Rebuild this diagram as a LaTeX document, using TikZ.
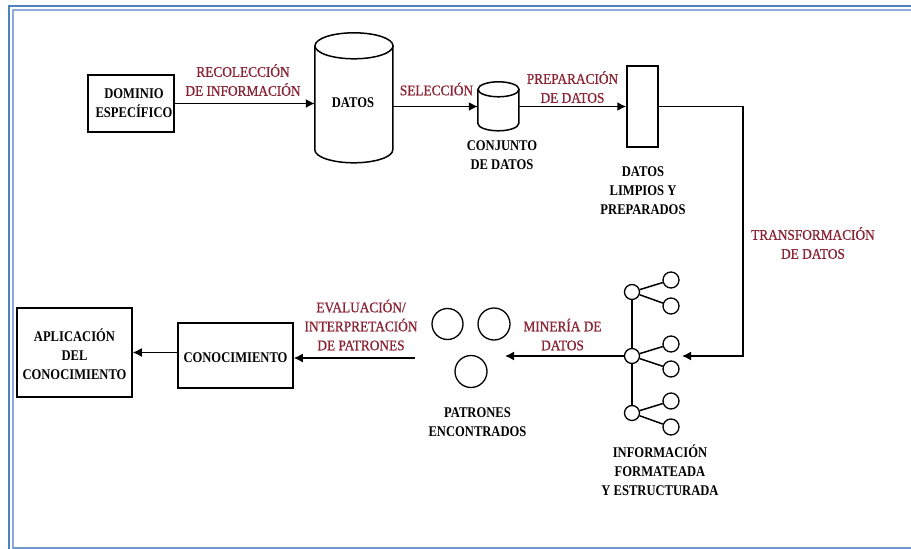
\documentclass[tikz,border=0pt]{standalone}
\usepackage{fontspec}
\setmainfont{Liberation Serif}[FakeStretch=0.85]
\newfontfamily\labelfont{Liberation Serif}[FakeStretch=0.9, FakeBold=0.8]
\usetikzlibrary{arrows.meta}
\definecolor{framebl}{HTML}{4F81BD}
\definecolor{framelt}{HTML}{8EAADB}
\definecolor{lblred}{HTML}{8B2434}
\tikzset{
  txt/.style={font=\fontsize{14.8}{19}\selectfont\bfseries, align=center, inner sep=0pt},
  lbl/.style={font=\labelfont\fontsize{14.8}{19}\selectfont, text=lblred, align=center, inner sep=0pt},
  box/.style={draw, line width=1.5pt, inner sep=0pt},
  conn/.style={line width=1.5pt},
  arr/.style={conn, -{Latex[length=9pt,width=9pt]}},
  tnode/.style={circle, draw, line width=1.3pt, minimum size=16pt, inner sep=0pt},
  pat/.style={circle, draw, line width=1.3pt, minimum size=32pt, inner sep=0pt},
}
\begin{document}
\begin{tikzpicture}[x=1pt,y=-1pt]
\useasboundingbox (0,0) rectangle (911,549);

% page frame (double rule on the left and top, single at the bottom)
\draw[framebl, line width=2pt] (9,549) -- (9,6) -- (911,6);
\draw[framelt, line width=1.6pt] (13,549) -- (13,10) -- (911,10);
\draw[framebl!80, line width=1.5pt] (13,548) -- (911,548);

% --- top row ---
\node[box, minimum width=86pt, minimum height=57pt] (dom) at (131,103.5) {};
\node[txt] at (134,103.5) {DOMINIO\\ESPECÍFICO};

% large cylinder: DATOS
\node[minimum width=78pt, minimum height=130pt, inner sep=0pt] (datos) at (354,98) {};
\node[txt] at (353,103) {DATOS};
\draw[conn] (datos.north west) ++(0,13) -- ++(0,104)
  arc[start angle=180, end angle=360, x radius=39pt, y radius=13pt] -- ++(0,-104);
\draw[conn] (datos.north) ++(0,13) ellipse[x radius=39pt, y radius=13pt];

% small cylinder: conjunto de datos
\node[minimum width=41pt, minimum height=49pt, inner sep=0pt] (conj) at (498.5,106.5) {};
\draw[conn] (conj.north west) ++(0,7.5) -- ++(0,34)
  arc[start angle=180, end angle=360, x radius=20.5pt, y radius=7.5pt] -- ++(0,-34);
\draw[conn] (conj.north) ++(0,7.5) ellipse[x radius=20.5pt, y radius=7.5pt];
\node[txt] at (502,155) {CONJUNTO\\DE DATOS};

% clean data bar
\node[box, minimum width=31pt, minimum height=81pt] (limp) at (642.5,106.5) {};
\node[txt] at (643,191) {DATOS\\LIMPIOS Y\\PREPARADOS};

\draw[arr] (dom.east) -- (dom.east -| datos.west);
\node[lbl] at (243,80) {RECOLECCIÓN\\DE INFORMACIÓN};
\draw[arr] (datos.east |- conj.west) -- (conj.west);
\node[lbl] at (436.5,89) {SELECCIÓN};
\draw[arr] (conj.east) -- (limp.west);
\node[lbl] at (572.5,87) {PREPARACIÓN\\DE DATOS};

% --- structured information (tree) ---
\node[tnode, minimum size=15pt] (r1) at (632,292) {};
\node[tnode, minimum size=15pt] (r2) at (632,356) {};
\node[tnode, minimum size=15pt] (r3) at (632,413) {};
\node[tnode] (l1) at (671,280) {};
\node[tnode] (l2) at (671,306) {};
\node[tnode] (l3) at (671,344) {};
\node[tnode] (l4) at (671,369) {};
\node[tnode] (l5) at (671,401) {};
\node[tnode] (l6) at (671,427) {};
\draw[conn] (r1) -- (r2) (r2) -- (r3);
\draw[conn] (r1) -- (l1) (r1) -- (l2) (r2) -- (l3) (r2) -- (l4) (r3) -- (l5) (r3) -- (l6);
\node[txt] at (660,470) {INFORMACIÓN\\FORMATEADA\\Y ESTRUCTURADA};

\coordinate (tin) at (682,356);
\draw[arr] (limp.east) -- (743,106.5) -- (743,356) -- (tin);
\node[lbl] at (813,243) {TRANSFORMACIÓN\\DE DATOS};

% --- found patterns ---
\node[pat, minimum size=31pt] (p1) at (447.5,324) {};
\node[pat] (p2) at (494,324) {};
\node[pat] (p3) at (471,371.5) {};
\node[txt] at (477.5,422) {PATRONES\\ENCONTRADOS};

\coordinate (pin) at (505,356);
\draw[arr] (r2.west) -- (pin);
\node[lbl] at (562.5,334.5) {MINERÍA DE\\DATOS};

% --- knowledge ---
\node[box, minimum width=115pt, minimum height=65pt] (con) at (235.5,355.5) {};
\node[txt] at (235.5,358) {CONOCIMIENTO};
\node[box, minimum width=115pt, minimum height=89pt] (apl) at (74.5,352.5) {};
\node[txt] at (74.5,354) {APLICACIÓN\\DEL\\CONOCIMIENTO};

\coordinate (pout) at (415,358);
\draw[arr] (pout) -- (pout -| con.east);
\node[lbl] at (361,325) {EVALUACIÓN/\\INTERPRETACIÓN\\DE PATRONES};
\draw[arr] (con.west |- apl.east) -- (apl.east);
\end{tikzpicture}
\end{document}
